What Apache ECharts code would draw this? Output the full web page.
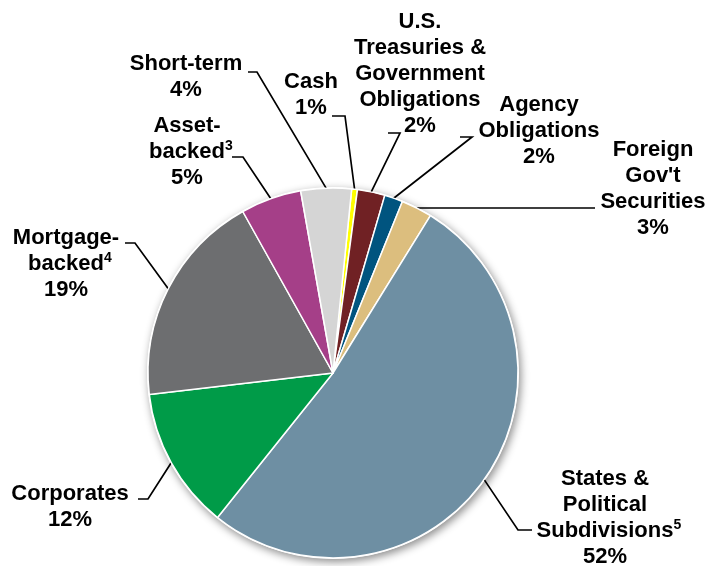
<!DOCTYPE html>
<html>
<head>
<meta charset="utf-8">
<script src="https://cdn.jsdelivr.net/npm/echarts@6/dist/echarts.min.js"></script>
<style>
  html, body { margin: 0; padding: 0; background: #fff; }
  #chart { width: 707px; height: 566px; }
</style>
</head>
<body>
<div id="chart"></div>
<script>
// Portfolio composition by sector (percent of total), clockwise from the top
const categories = [
  'Cash',
  'U.S.\nTreasuries &\nGovernment\nObligations',
  'Agency\nObligations',
  'Foreign\nGov\'t\nSecurities',
  'States &\nPolitical\nSubdivisions',
  'Corporates',
  'Mortgage-\nbacked',
  'Asset-\nbacked',
  'Short-term'
];
const shares = [0.5, 2.4, 1.6, 2.7, 51.8, 12.4, 18.7, 5.3, 4.4];
const footnotes = ['', '', '', '', '5', '', '4', '3', ''];

const sliceColors = ['#FFFF00', '#702124', '#00547F', '#DCBE7E', '#6E8FA3',
                     '#009B48', '#6D6E70', '#A53F88', '#D5D5D5'];

// Label block centres and leader-line elbow/end points (px)
const labelSpots = [
  [311, 95], [420, 74], [539, 131], [653, 189], [605, 518],
  [70, 507], [66, 264], [187, 152], [186, 77]
];
const leaderBends = [
  [[345, 116], [332, 116]],
  [[400, 133], [388, 133]],
  [[472, 137], [460, 137]],
  [[500, 208], [595, 208]],
  [[518, 530], [532, 530]],
  [[148, 499], [138, 499]],
  [[135, 243], [125, 243]],
  [[243, 157], [232, 157]],
  [[257, 72], [248, 72]]
];

const pieCenter = [333, 373];
const pieRadius = 185;
const startAngle = 84.2;

function edgePoint(i) {
  const total = shares.reduce((a, b) => a + b, 0);
  let before = 0;
  for (let k = 0; k < i; k++) before += shares[k];
  const midDeg = startAngle - (before + shares[i] / 2) / total * 360;
  const rad = midDeg * Math.PI / 180;
  return [pieCenter[0] + pieRadius * Math.cos(rad), pieCenter[1] - pieRadius * Math.sin(rad)];
}

function labelText(p) {
  const i = p.dataIndex;
  const lines = categories[i].split('\n');
  const note = footnotes[i];
  const out = lines.map((ln, k) => {
    if (k === lines.length - 1 && note) {
      return '{hid|' + note + '}{t|' + ln + '}{sup|' + note + '}';
    }
    return '{t|' + ln + '}';
  });
  out.push('{t|' + Math.round(shares[i]) + '%}');
  return out.join('\n');
}

const chart = echarts.init(document.getElementById('chart'), null, { renderer: 'canvas' });

const textBase = {
  fontFamily: '"Liberation Sans", Arial, Helvetica, sans-serif',
  fontWeight: 'bold',
  fontSize: 22,
  color: '#000',
  lineHeight: 26
};

const supBase = {
  fontFamily: textBase.fontFamily,
  fontWeight: 'bold',
  fontSize: 14,
  verticalAlign: 'top',
  lineHeight: 4
};

chart.setOption({
  backgroundColor: '#fff',
  animation: false,
  series: [
    {
      // soft drop shadow behind the pie
      type: 'pie',
      silent: true,
      z: 1,
      center: pieCenter,
      radius: pieRadius + 1,
      label: { show: false },
      labelLine: { show: false },
      itemStyle: {
        color: '#fff',
        shadowBlur: 8,
        shadowColor: 'rgba(0,0,0,0.45)',
        shadowOffsetX: 2,
        shadowOffsetY: 3
      },
      data: [{ value: 1, name: '' }]
    },
    {
      type: 'pie',
      z: 2,
      center: pieCenter,
      radius: pieRadius,
      startAngle: startAngle,
      clockwise: true,
      avoidLabelOverlap: false,
      itemStyle: { borderColor: '#fff', borderWidth: 1.5 },
      label: {
        show: true,
        position: 'outside',
        formatter: labelText,
        align: 'center',
        ...textBase,
        rich: {
          t: { ...textBase },
          sup: { ...supBase, color: '#000' },
          hid: { ...supBase, color: 'rgba(0,0,0,0)' }
        }
      },
      labelLine: {
        show: true,
        smooth: false,
        lineStyle: { color: '#000', width: 1.7 }
      },
      labelLayout: function (p) {
        const i = p.dataIndex;
        const start = (p.labelLinePoints && p.labelLinePoints[0]) || edgePoint(i);
        return {
          x: labelSpots[i][0],
          y: labelSpots[i][1],
          align: 'center',
          verticalAlign: 'middle',
          labelLinePoints: [start, leaderBends[i][0], leaderBends[i][1]]
        };
      },
      data: categories.map((c, i) => ({
        name: c,
        value: shares[i],
        itemStyle: { color: sliceColors[i] }
      }))
    }
  ]
});
</script>
</body>
</html>
